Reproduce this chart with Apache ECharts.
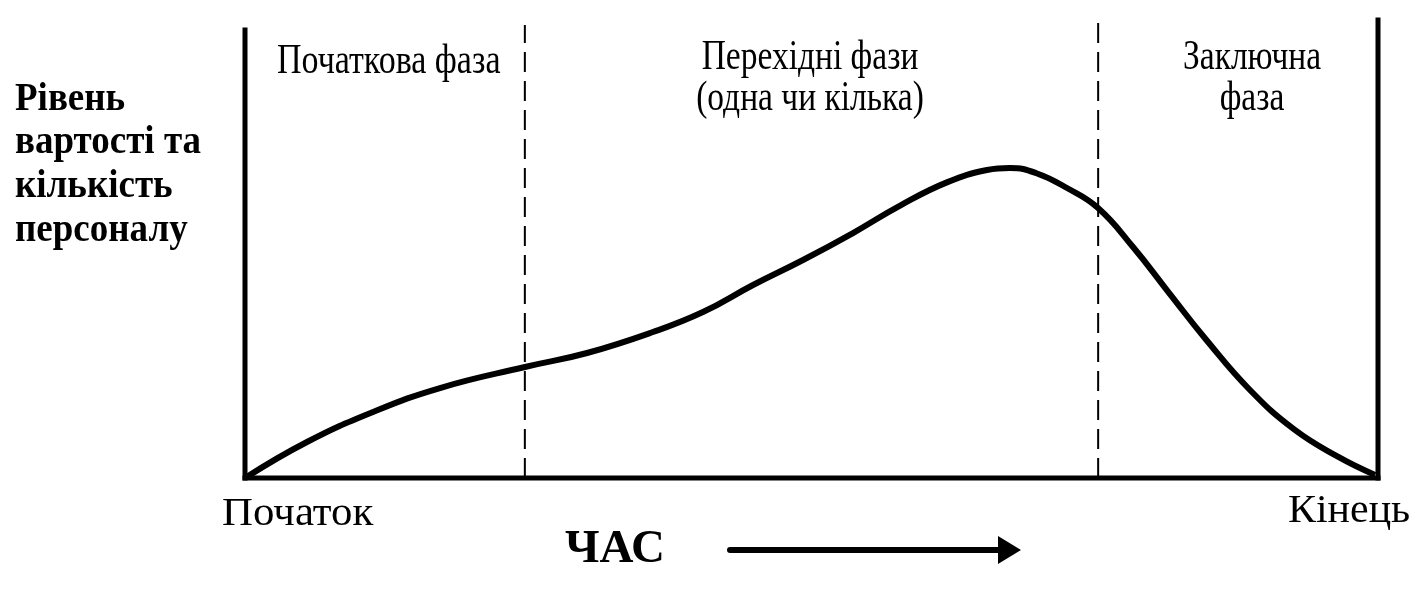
<!DOCTYPE html>
<html>
<head>
<meta charset="utf-8">
<script src="https://cdn.jsdelivr.net/npm/echarts@6/dist/echarts.min.js"></script>
<style>html,body{margin:0;padding:0;background:#fff;}#c{width:1421px;height:595px;}</style>
</head>
<body>
<div id="c"></div>
<script>
// Data (time units 0..100, level units 0..100)
var curveX = [0, 5.47, 11.30, 17.21, 24.71, 30.19, 36.01, 40.42, 44.84, 49.25, 53.66, 57.9, 62.0, 65.49, 67.52, 69.8, 72.55, 75.29, 78.38, 81.5, 84.8, 88.70, 92.6, 96.5, 99.74];
var curveY = [0, 7.86, 14.41, 19.65, 24.24, 27.29, 31.88, 36.24, 42.14, 47.60, 53.49, 59.6, 64.6, 67.25, 67.69, 66.6, 63.32, 58.95, 50.44, 40.6, 30.3, 19.21, 10.6, 4.6, 0.66];
var phaseBounds = [24.7, 75.3];
var phaseLabels = ['Початкова фаза', 'Перехідні фази\n(одна чи кілька)', 'Заключна\nфаза'];
var yAxisTitle = 'Рівень\nвартості та\nкількість\nперсоналу';
var startLabel = 'Початок';
var endLabel = 'Кінець';
var timeLabel = 'ЧАС';

var curve = curveX.map(function (x, i) { return [x, curveY[i]]; });
var serif = '"Liberation Serif", "Times New Roman", serif';

function solid(data, w) {
  return { type: 'line', data: data, symbol: 'none', clip: false, silent: true,
    lineStyle: { color: '#000', width: w, cap: 'square' }, z: 3 };
}
function txt(x, y, text, font, opts) {
  opts = opts || {};
  return { type: 'text', x: x, y: y, scaleX: opts.sx || 1, scaleY: opts.sy || 1,
    style: { text: text, font: font, fill: '#000', align: opts.align || 'left',
      verticalAlign: 'middle', lineHeight: opts.lh } };
}

var chart = echarts.init(document.getElementById('c'));
chart.setOption({
  animation: false,
  backgroundColor: '#fff',
  grid: { left: 245, right: 43, top: 20, bottom: 117 },
  xAxis: { type: 'value', min: 0, max: 100, show: false },
  yAxis: { type: 'value', min: 0, max: 100, show: false },
  series: [
    solid([[0, 0], [100, 0]], 5),
    solid([[0, 0], [0, 97.8]], 5),
    solid([[100, 0], [100, 100]], 5),
    { type: 'line', data: [[phaseBounds[0], 0], [phaseBounds[0], 98.9]], symbol: 'none', clip: false, silent: true,
      lineStyle: { color: '#000', width: 2, type: [20, 9] } },
    { type: 'line', data: [[phaseBounds[1], 0], [phaseBounds[1], 100]], symbol: 'none', clip: false, silent: true,
      lineStyle: { color: '#000', width: 2, type: [20, 9] } },
    { type: 'line', data: curve, smooth: 0.45, symbol: 'none', clip: false, silent: true,
      lineStyle: { color: '#000', width: 6, join: 'round' }, z: 4 }
  ],
  graphic: [
    txt(15, 164.5, yAxisTitle, 'bold 37px ' + serif, { sy: 1.1, lh: 39.7 }),
    txt(277, 62, phaseLabels[0], '34px ' + serif, { sy: 1.25 }),
    txt(810, 78.5, phaseLabels[1], '33.5px ' + serif, { sy: 1.25, lh: 32.8, align: 'center' }),
    txt(1252, 78.5, phaseLabels[2], '33.5px ' + serif, { sy: 1.25, lh: 32.8, align: 'center' }),
    txt(222, 514.5, startLabel, '39px ' + serif, { sx: 1.1 }),
    txt(1288, 512, endLabel, '39px ' + serif, { sx: 1.075 }),
    txt(565, 550, timeLabel, 'bold 47px ' + serif),
    { type: 'line', shape: { x1: 730, y1: 550, x2: 1002, y2: 550 }, style: { stroke: '#000', lineWidth: 6, lineCap: 'round' } },
    { type: 'polygon', shape: { points: [[998, 536], [1021, 550], [998, 564]] }, style: { fill: '#000' } }
  ]
});
</script>
</body>
</html>
